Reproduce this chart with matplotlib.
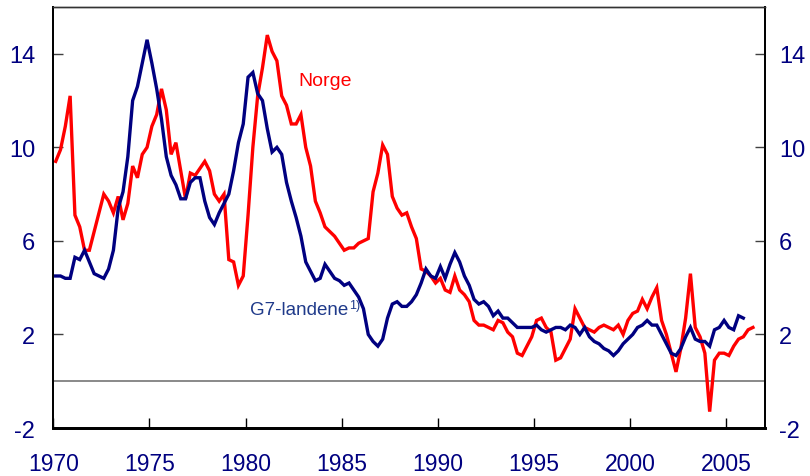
import numpy as np
import matplotlib
matplotlib.use('Agg')
import matplotlib.pyplot as plt

plt.rcParams['font.family'] = ['Liberation Sans', 'DejaVu Sans']
plt.rcParams['axes.unicode_minus'] = False

# quarterly values, first quarter 1970
norge = [
    9.4, 9.9, 10.9, 12.2,   # 1970
    7.1, 6.6, 5.6, 5.6,
    6.4, 7.2, 8.0, 7.7,
    7.2, 7.9, 6.9, 7.6,
    9.2, 8.7, 9.7, 10.0,
    10.9, 11.4, 12.5, 11.6,  # 1975
    9.7, 10.2, 9.0, 7.8,
    8.9, 8.8, 9.1, 9.4,
    9.0, 8.0, 7.7, 8.0,
    5.2, 5.1, 4.1, 4.5,
    7.1, 10.0, 12.2, 13.4,   # 1980
    14.8, 14.1, 13.7, 12.2,
    11.8, 11.0, 11.0, 11.4,
    10.0, 9.2, 7.7, 7.2,
    6.6, 6.4, 6.2, 5.9,
    5.6, 5.7, 5.7, 5.9,      # 1985
    6.0, 6.1, 8.1, 8.9,
    10.1, 9.7, 7.9, 7.4,
    7.1, 7.2, 6.6, 6.1,
    4.8, 4.7, 4.5, 4.2,
    4.4, 3.9, 3.8, 4.5,      # 1990
    3.9, 3.7, 3.4, 2.6,
    2.4, 2.4, 2.3, 2.2,
    2.6, 2.5, 2.1, 1.9,
    1.2, 1.1, 1.5, 1.9,
    2.6, 2.7, 2.3, 2.1,      # 1995
    0.9, 1.0, 1.4, 1.8,
    3.1, 2.7, 2.3, 2.2,
    2.1, 2.3, 2.4, 2.3,
    2.2, 2.4, 2.0, 2.6,
    2.9, 3.0, 3.5, 3.1,      # 2000
    3.6, 4.0, 2.6, 2.0,
    1.2, 0.4, 1.4, 2.7,
    4.6, 2.3, 1.9, 1.2,
    -1.3, 0.9, 1.2, 1.2,
    1.1, 1.5, 1.8, 1.9,      # 2005
    2.2, 2.3,
]

g7 = [
    4.5, 4.5, 4.4, 4.4,      # 1970
    5.3, 5.2, 5.6, 5.1,
    4.6, 4.5, 4.4, 4.8,
    5.6, 7.4, 8.1, 9.6,
    12.0, 12.6, 13.6, 14.6,
    13.6, 12.5, 11.2, 9.6,   # 1975
    8.8, 8.4, 7.8, 7.8,
    8.5, 8.7, 8.7, 7.7,
    7.0, 6.7, 7.2, 7.6,
    8.0, 9.0, 10.2, 11.0,
    13.0, 13.2, 12.3, 12.0,  # 1980
    10.8, 9.8, 10.0, 9.7,
    8.5, 7.7, 7.0, 6.2,
    5.1, 4.7, 4.3, 4.4,
    5.0, 4.7, 4.4, 4.3,
    4.1, 4.2, 3.9, 3.6,      # 1985
    3.1, 2.0, 1.7, 1.5,
    1.8, 2.7, 3.3, 3.4,
    3.2, 3.2, 3.4, 3.7,
    4.2, 4.8, 4.5, 4.4,
    4.9, 4.4, 5.0, 5.5,      # 1990
    5.1, 4.5, 4.1, 3.5,
    3.3, 3.4, 3.2, 2.8,
    3.0, 2.7, 2.7, 2.5,
    2.3, 2.3, 2.3, 2.3,
    2.4, 2.2, 2.1, 2.2,      # 1995
    2.3, 2.3, 2.2, 2.4,
    2.3, 2.0, 2.3, 1.9,
    1.7, 1.6, 1.4, 1.3,
    1.1, 1.3, 1.6, 1.8,
    2.0, 2.3, 2.4, 2.6,      # 2000
    2.4, 2.4, 2.0, 1.6,
    1.2, 1.1, 1.4, 1.9,
    2.3, 1.8, 1.7, 1.7,
    1.5, 2.2, 2.3, 2.6,
    2.3, 2.2, 2.8, 2.7,      # 2005
]

start_year = 1970
xticks = [1970, 1975, 1980, 1985, 1990, 1995, 2000, 2005]
yticks = [-2, 2, 6, 10, 14]

navy = '#000080'
red = '#ff0000'
label_blue = '#1f3a8a'

fig = plt.figure(figsize=(8.1, 4.77), dpi=100)
ax = fig.add_axes([0.0658, 0.1006, 0.8786, 0.8826])

x_no = start_year + (np.arange(len(norge)) + 0.5) / 4
x_g7 = start_year + (np.arange(len(g7)) + 0.5) / 4

ax.axhline(0, color='#808080', lw=1.3, zorder=1)
ax.plot(x_g7, g7, color=navy, lw=2.4, solid_joinstyle='miter', zorder=3)
ax.plot(x_no, norge, color=red, lw=2.4, solid_joinstyle='miter', zorder=2)

ax.set_xlim(1970, 2007)
ax.set_ylim(-2, 16)
ax.set_xticks(xticks)
ax.set_yticks(yticks)

ax.tick_params(axis='x', direction='in', length=7, width=1, color='black',
               labelsize=16.5, labelcolor=navy, pad=17)
ax.tick_params(axis='y', direction='in', length=7, width=1, color='#404040',
               labelsize=17, labelcolor=navy, pad=13)

# right hand axis with the same scale
ax2 = ax.twinx()
ax2.set_ylim(ax.get_ylim())
ax2.set_yticks(yticks)
ax2.tick_params(axis='y', direction='in', length=7, width=1, color='#404040',
                labelsize=17, labelcolor=navy, pad=10)

for a in (ax, ax2):
    a.spines['bottom'].set_linewidth(2)
    a.spines['left'].set_linewidth(1.3)
    a.spines['right'].set_linewidth(1.3)
    a.spines['top'].set_linewidth(1.0)
    a.spines['top'].set_color('#333333')

ax.text(1982.75, 12.85, 'Norge', color=red, fontsize=14, va='center', ha='left')
t = ax.text(1980.25, 3.05, 'G7-landene', color=label_blue, fontsize=13.5,
            va='center', ha='left')
ax.annotate('1)', xy=(1.0, 0.45), xycoords=t, color=label_blue, fontsize=9,
            va='bottom', ha='left')

fig.savefig('out.png', dpi=100)
